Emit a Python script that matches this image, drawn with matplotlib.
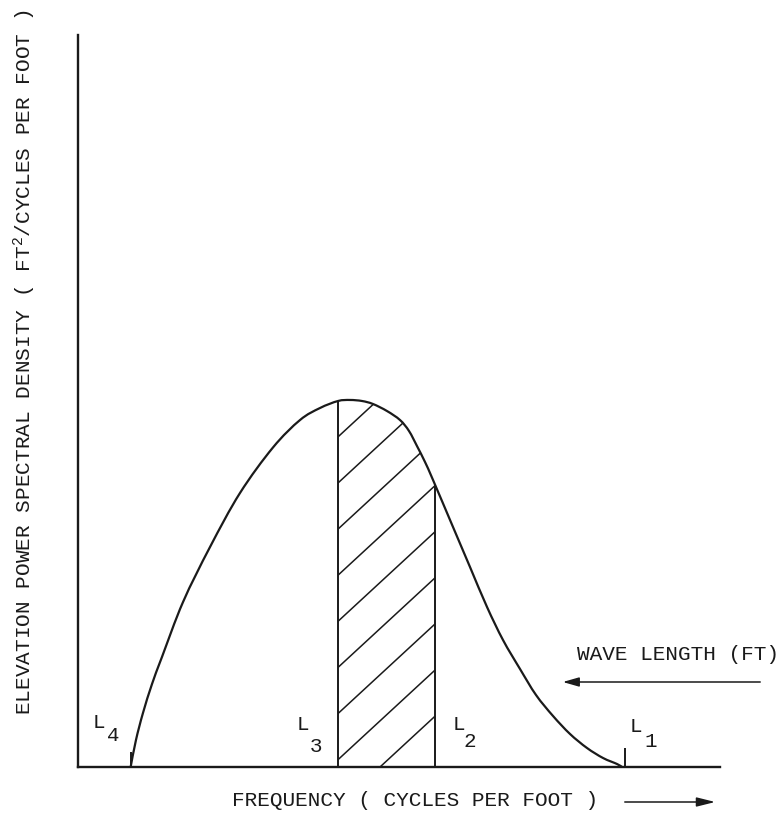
import numpy as np
import matplotlib.pyplot as plt
from matplotlib.path import Path
from matplotlib.patches import PathPatch, FancyArrowPatch

plt.rcParams['font.family'] = ['Liberation Mono', 'DejaVu Sans']
plt.rcParams['mathtext.fontset'] = 'custom'
plt.rcParams['mathtext.rm'] = 'Liberation Mono'
plt.rcParams['mathtext.it'] = 'Liberation Mono'

# spectrum sketch (arbitrary units, both axes run 0..100)
freq = [8.2, 9.03, 10.12, 11.53, 13.08, 16.36, 20.56, 25.23, 30.37, 34.58,
        37.69, 40.50, 42.37, 44.24, 45.95, 48.13, 50.16, 51.56, 52.80, 54.05,
        55.30, 58.41, 61.06, 63.71, 66.20, 68.85, 71.34, 73.99, 76.64, 79.28,
        81.78, 83.96, 84.74]
psd = [0.0, 3.69, 7.38, 11.34, 15.03, 22.54, 30.05, 37.43, 43.65, 47.40,
       49.04, 50.00, 50.14, 50.00, 49.59, 48.63, 47.40, 45.90, 43.85, 41.67,
       39.21, 32.79, 27.32, 21.86, 17.35, 13.39, 9.84, 6.97, 4.51, 2.60,
       1.23, 0.41, 0.0]

# wave length marks
band = [40.5, 55.6]          # L3, L2
tick_x = [8.2, 85.2]         # L4, L1
tick_h = [2.0, 2.6]

ink = '#1a1a1a'
W, H = 784, 821

def fp(x, y):
    return x / W, 1 - y / H

def smooth_path(xs, ys):
    # catmull-rom through the read points, drawn as cubic beziers
    p = np.column_stack([xs, ys])
    p = np.vstack([p[0], p, p[-1]])
    verts, codes = [p[1]], [Path.MOVETO]
    for i in range(1, len(p) - 2):
        c1 = p[i] + (p[i + 1] - p[i - 1]) / 6
        c2 = p[i + 1] - (p[i + 2] - p[i]) / 6
        verts += [c1, c2, p[i + 1]]
        codes += [Path.CURVE4] * 3
    return Path(verts, codes)

fig = plt.figure(figsize=(W / 100, H / 100), dpi=100)
ax = fig.add_axes([78 / W, 1 - 767 / H, 642 / W, 732 / H])
ax.set_xlim(0, 100)
ax.set_ylim(0, 100)
for s in ['top', 'right']:
    ax.spines[s].set_visible(False)
for s in ['left', 'bottom']:
    ax.spines[s].set_linewidth(1.7)
    ax.spines[s].set_color(ink)
ax.set_xticks([])
ax.set_yticks([])

ax.add_patch(PathPatch(smooth_path(freq, psd), facecolor='none',
                       edgecolor=ink, lw=1.6, capstyle='round', joinstyle='round'))

# shaded band between L3 and L2
xb = np.array([f for f in freq if band[0] < f < band[1]])
xb = np.concatenate([[band[0]], xb, [band[1]]])
yb = np.interp(xb, freq, psd)
poly = ax.fill_between(xb, 0, yb, facecolor='none', edgecolor='none')
ax.vlines(band, 0, np.interp(band, freq, psd), color=ink, lw=1.4)

slope, step = 0.81, 6.3
for k in range(-3, 9):
    c = 45.1 - k * step
    hx = np.array([band[0], band[1]])
    ln, = ax.plot(hx, c + slope * (hx - band[0]), color=ink, lw=1.1)
    ln.set_clip_path(poly.get_paths()[0], ax.transData)

ax.vlines(tick_x, 0, tick_h, color=ink, lw=1.4)

# L labels
lab = [('L', '4', 2.3, 5.3, 4.5, 3.6),
       ('L', '3', 34.1, 5.1, 36.1, 2.1),
       ('L', '2', 58.3, 5.1, 60.0, 2.7),
       ('L', '1', 86.0, 4.8, 88.3, 2.7)]
for a, b, x1, y1, x2, y2 in lab:
    ax.text(x1, y1, a, fontsize=15, color=ink, va='baseline', ha='left')
    ax.text(x2, y2, b, fontsize=15, color=ink, va='baseline', ha='left')

fig.text(*fp(25, 362), 'ELEVATION POWER SPECTRAL DENSITY ( FT$^{2}$/CYCLES PER FOOT )',
         rotation=90, ha='center', va='center', fontsize=15.2, color=ink)
fig.text(*fp(232, 800), 'FREQUENCY ( CYCLES PER FOOT )', ha='left', va='center',
         fontsize=15.2, color=ink)
fig.text(*fp(577, 655), 'WAVE LENGTH (FT)', ha='left', va='center',
         fontsize=15.2, color=ink)

fig.add_artist(FancyArrowPatch(
    fp(622, 802), fp(718, 802), transform=fig.transFigure,
    arrowstyle='-|>,head_length=0.8,head_width=0.2', mutation_scale=14,
    color=ink, lw=1.1))
fig.add_artist(FancyArrowPatch(
    fp(763, 682), fp(560, 682), transform=fig.transFigure,
    arrowstyle='-|>,head_length=0.7,head_width=0.2', mutation_scale=14,
    color=ink, lw=1.1))

fig.savefig('out.png', dpi=100, facecolor='white')
